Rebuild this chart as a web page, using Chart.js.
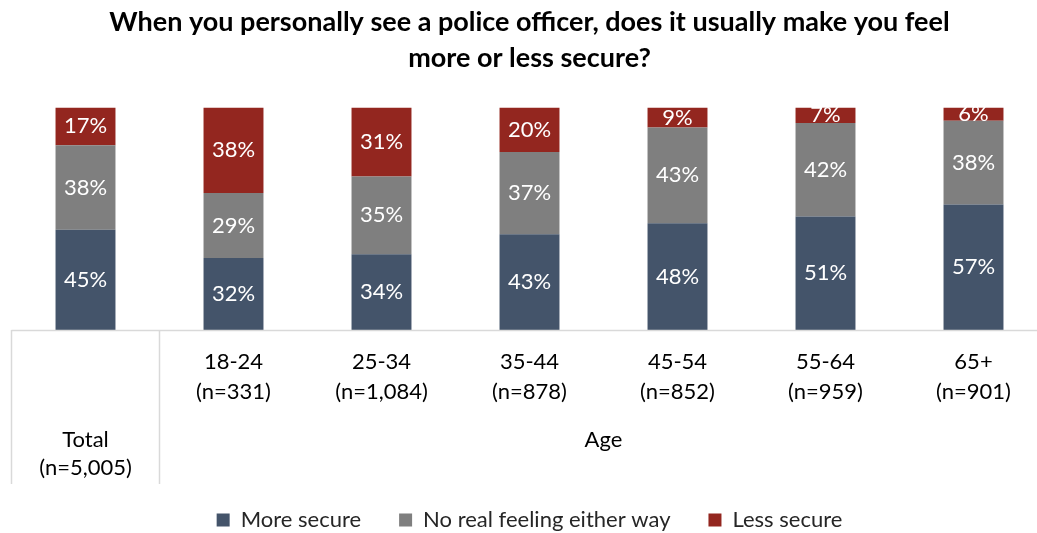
<!DOCTYPE html>
<html>
<head>
<meta charset="utf-8">
<script src="https://cdn.jsdelivr.net/npm/chart.js@4.4.1/dist/chart.umd.min.js"></script>
<style>
  html, body { margin: 0; padding: 0; background: #fff; overflow: hidden; }
  #wrap { width: 1059px; height: 541px; }
</style>
</head>
<body>
<div id="wrap"><canvas id="chartSecure"></canvas></div>
<script>
// Data
const categories = ['Total', '18-24', '25-34', '35-44', '45-54', '55-64', '65+'];
const sampleSizes = ['(n=5,005)', '(n=331)', '(n=1,084)', '(n=878)', '(n=852)', '(n=959)', '(n=901)'];
const moreSecure = [45, 32, 34, 43, 48, 51, 57];
const noFeeling = [38, 29, 35, 37, 43, 42, 38];
const lessSecure = [17, 38, 31, 20, 9, 7, 6];

const FONT = 'Lato, "Open Sans", sans-serif';

// 100% stacked: each column is scaled to its own total, labels keep the raw value
const totals = moreSecure.map((v, i) => v + noFeeling[i] + lessSecure[i]);
const pct = arr => arr.map((v, i) => v / totals[i] * 100);

// Labels inside each segment
const segmentLabels = {
  id: 'segmentLabels',
  afterDatasetsDraw(chart) {
    const ctx = chart.ctx;
    ctx.save();
    ctx.font = '22px ' + FONT;
    ctx.fillStyle = '#ffffff';
    ctx.textAlign = 'center';
    ctx.textBaseline = 'middle';
    chart.data.datasets.forEach((ds, di) => {
      chart.getDatasetMeta(di).data.forEach((bar, i) => {
        ctx.fillText(ds.raw[i] + '%', bar.x, (bar.y + bar.base) / 2);
      });
    });
    ctx.restore();
  }
};

// Table-like axis: base line, separators, group labels
const axisTable = {
  id: 'axisTable',
  afterDraw(chart) {
    const ctx = chart.ctx;
    const area = chart.chartArea;
    const x = chart.scales.x;
    const step = x.getPixelForValue(1) - x.getPixelForValue(0);
    const split = x.getPixelForValue(0) + step / 2;
    const bottom = area.bottom + 154;
    ctx.save();
    ctx.strokeStyle = '#d9d9d9';
    ctx.lineWidth = 1.5;
    ctx.beginPath();
    ctx.moveTo(area.left, area.bottom + 0.5);
    ctx.lineTo(chart.width, area.bottom + 0.5);
    ctx.moveTo(area.left, area.bottom);
    ctx.lineTo(area.left, bottom);
    ctx.moveTo(split, area.bottom);
    ctx.lineTo(split, bottom);
    ctx.stroke();

    ctx.font = '22px ' + FONT;
    ctx.fillStyle = '#000000';
    ctx.textAlign = 'center';
    ctx.textBaseline = 'middle';
    ctx.fillText(categories[0], x.getPixelForValue(0), area.bottom + 110);
    ctx.fillText(sampleSizes[0], x.getPixelForValue(0), area.bottom + 138);
    ctx.fillText('Age', (split + area.right) / 2, area.bottom + 110);
    ctx.restore();
  }
};

new Chart(document.getElementById('chartSecure'), {
  type: 'bar',
  data: {
    labels: categories,
    datasets: [
      { label: 'More secure', data: pct(moreSecure), raw: moreSecure, backgroundColor: '#44546a' },
      { label: 'No real feeling either way', data: pct(noFeeling), raw: noFeeling, backgroundColor: '#7f7f7f' },
      { label: 'Less secure', data: pct(lessSecure), raw: lessSecure, backgroundColor: '#93261f' }
    ]
  },
  options: {
    responsive: true,
    maintainAspectRatio: false,
    animation: false,
    datasets: { bar: { categoryPercentage: 1, barPercentage: 0.405, borderWidth: 0 } },
    layout: { padding: { left: 11.5, right: 11.5, top: 0, bottom: 0 } },
    scales: {
      x: {
        stacked: true,
        grid: { display: false, drawTicks: false },
        border: { display: false },
        ticks: {
          padding: 17,
          color: '#000000',
          maxRotation: 0,
          font: { size: 22, family: FONT, lineHeight: 1.36 },
          callback: (val, i) => i === 0 ? ['', ''] : [categories[i], sampleSizes[i]]
        },
        afterFit: scale => { scale.height = 141; }
      },
      y: { stacked: true, display: false, min: 0, max: 100 }
    },
    plugins: {
      title: {
        display: true,
        text: ['When you personally see a police officer, does it usually make you feel', 'more or less secure?'],
        color: '#000000',
        font: { size: 27, weight: 'bold', family: FONT, lineHeight: 1.333 },
        padding: { top: 4, bottom: 31.5 }
      },
      legend: {
        position: 'bottom',
        labels: {
          boxWidth: 13,
          boxHeight: 13,
          padding: 38,
          color: '#262626',
          font: { size: 22, family: FONT }
        }
      },
      tooltip: { enabled: false }
    }
  },
  plugins: [segmentLabels, axisTable]
});
</script>
</body>
</html>
